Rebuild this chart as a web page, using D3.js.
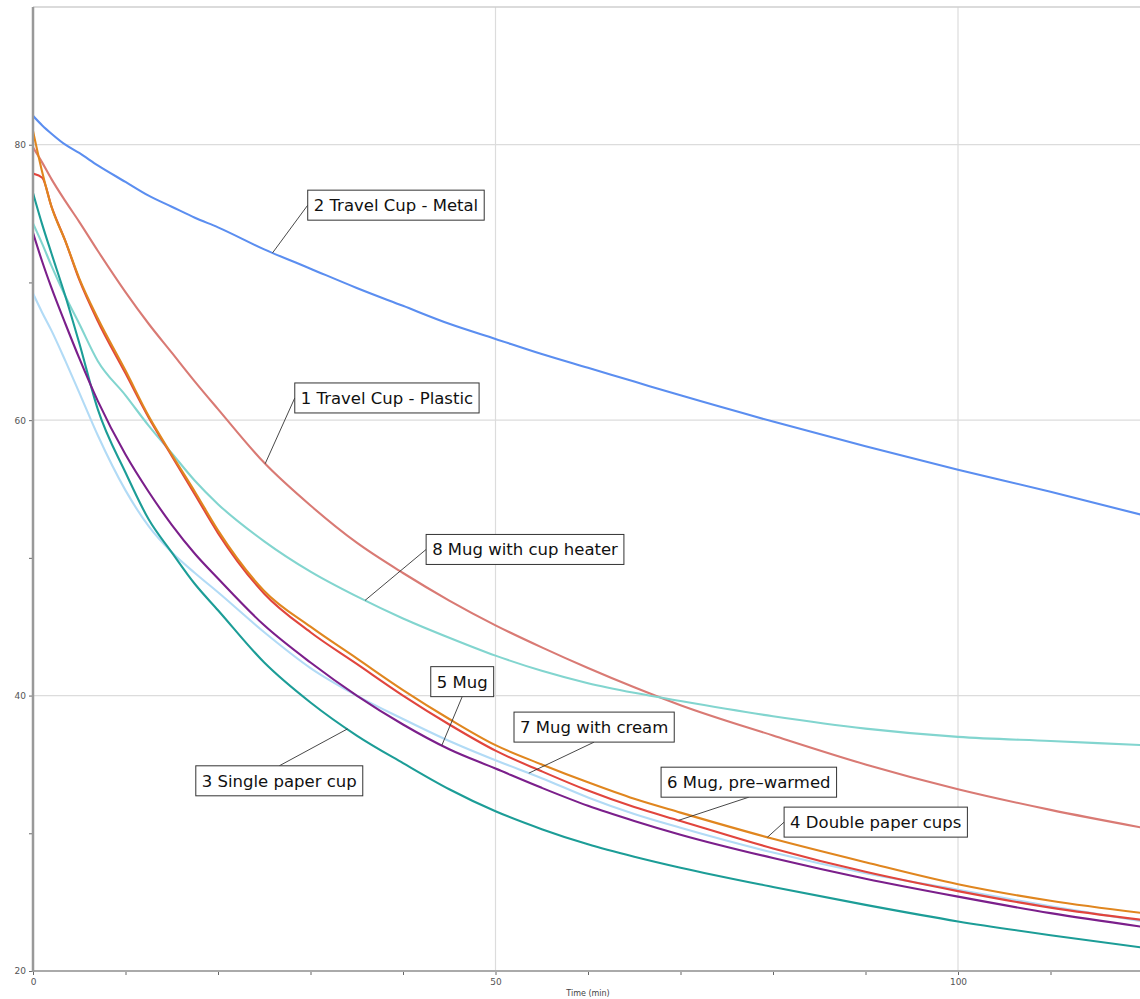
<!DOCTYPE html>
<html>
<head>
<meta charset="utf-8">
<script src="https://cdn.jsdelivr.net/npm/d3@7"></script>
<style>
  body { margin: 0; background: #fff; }
  svg { display: block; }
</style>
</head>
<body>
<script>
// sample times (min) shared by every cup
var times = [0, 1, 2, 3.5, 5, 7, 10, 12.5, 15, 17.5, 20, 25, 30, 35, 40, 45, 50, 55, 60, 65, 70, 80, 90, 100, 110, 120];

// temperatures
var travelPlastic = [79.8, 78.7, 77.5, 75.9, 74.4, 72.3, 69.3, 67.0, 64.9, 62.8, 60.8, 56.9, 53.8, 51.1, 48.9, 46.9, 45.1, 43.5, 42.0, 40.6, 39.3, 37.1, 35.0, 33.2, 31.7, 30.4];
var travelMetal   = [82.1, 81.4, 80.8, 80.0, 79.4, 78.5, 77.3, 76.3, 75.5, 74.7, 74.0, 72.4, 71.0, 69.6, 68.3, 67.0, 65.9, 64.8, 63.8, 62.8, 61.8, 59.9, 58.1, 56.4, 54.8, 53.1];
var singlePaper   = [76.5, 74.2, 72.1, 69.0, 65.6, 60.8, 56.2, 52.8, 50.4, 48.1, 46.2, 42.4, 39.5, 37.1, 35.1, 33.2, 31.6, 30.3, 29.2, 28.3, 27.5, 26.1, 24.8, 23.6, 22.6, 21.7];
var doublePaper   = [81.0, 78.0, 75.5, 73.0, 70.3, 67.4, 63.6, 60.3, 57.5, 54.8, 52.0, 47.6, 45.0, 42.7, 40.4, 38.3, 36.4, 35.0, 33.7, 32.5, 31.5, 29.6, 27.9, 26.3, 25.1, 24.2];
var mug           = [73.6, 71.5, 69.6, 67.0, 64.5, 61.4, 57.5, 54.8, 52.4, 50.3, 48.5, 45.1, 42.4, 40.0, 37.9, 36.1, 34.7, 33.3, 32.0, 30.9, 29.9, 28.2, 26.7, 25.4, 24.2, 23.2];
var mugPrewarmed  = [77.9, 77.6, 75.5, 73.0, 70.2, 67.2, 63.4, 60.2, 57.4, 54.6, 51.8, 47.4, 44.6, 42.3, 40.0, 37.9, 36.0, 34.5, 33.1, 31.9, 30.9, 28.9, 27.2, 25.8, 24.6, 23.7];
var mugCream      = [69.2, 67.8, 66.5, 64.3, 62.0, 58.9, 54.9, 52.3, 50.4, 48.9, 47.5, 44.6, 42.0, 40.0, 38.3, 36.7, 35.3, 34.0, 32.6, 31.4, 30.4, 28.6, 27.1, 25.9, 24.7, 23.6];
var mugHeater     = [74.3, 72.8, 71.2, 69.0, 67.0, 64.3, 61.8, 59.6, 57.6, 55.6, 53.9, 51.2, 49.0, 47.2, 45.6, 44.2, 42.9, 41.8, 40.9, 40.2, 39.6, 38.5, 37.6, 37.0, 36.7, 36.4];

var labels = ["1 Travel Cup - Plastic", "2 Travel Cup - Metal", "3 Single paper cup", "4 Double paper cups",
              "5 Mug", "6 Mug, pre\u2013warmed", "7 Mug with cream", "8 Mug with cup heater"];

var yTicks = [20, 30, 40, 50, 60, 70, 80];
var yTickLabels = [20, 40, 60, 80];
var xTicks = [0, 10, 20, 30, 40, 50, 60, 70, 80, 90, 100, 110, 120];
var xTickLabels = [0, 50, 100];

var width = 1140, height = 999;
var plotL = 33, plotT = 7, plotR = 1143, plotB = 971;

var x = d3.scaleLinear().domain([0, 120]).range([plotL, plotR]);
var y = d3.scaleLinear().domain([20, 90]).range([plotB, plotT]);

var series = [
  { name: labels[0], values: travelPlastic, color: "#d97a74" },
  { name: labels[1], values: travelMetal,   color: "#5b8ef0" },
  { name: labels[7], values: mugHeater,     color: "#82d5cf" },
  { name: labels[6], values: mugCream,      color: "#b2dbf6" },
  { name: labels[2], values: singlePaper,   color: "#1c9d97" },
  { name: labels[4], values: mug,           color: "#7b1f8b" },
  { name: labels[5], values: mugPrewarmed,  color: "#e1453d" },
  { name: labels[3], values: doublePaper,   color: "#e0861f" }
];

// annotation boxes: anchor time on the curve, box corner in data units, side the leader leaves from
var notes = [
  { label: labels[1], vals: travelMetal,   at: 25.9, bx: 29.7, by: 76.7, side: "left" },
  { label: labels[0], vals: travelPlastic, at: 25.1, bx: 28.3, by: 62.7, side: "left" },
  { label: labels[7], vals: mugHeater,     at: 35.9, bx: 42.5, by: 51.7, side: "left" },
  { label: labels[4], vals: mug,           at: 44.2, bx: 43.0, by: 42.1, side: "bottom" },
  { label: labels[6], vals: mugCream,      at: 53.6, bx: 52.0, by: 38.8, side: "bottom" },
  { label: labels[2], vals: singlePaper,   at: 34.0, bx: 17.6, by: 34.9, side: "top" },
  { label: labels[5], vals: mugPrewarmed,  at: 69.8, bx: 67.9, by: 34.8, side: "bottom" },
  { label: labels[3], vals: doublePaper,   at: 79.4, bx: 81.2, by: 31.9, side: "left" }
];

var svg = d3.select("body").append("svg")
  .attr("width", width)
  .attr("height", height)
  .style("font-family", "'DejaVu Sans', sans-serif");

// grid
svg.append("g").selectAll("line")
  .data([40, 60, 80])
  .enter().append("line")
  .attr("x1", plotL).attr("x2", plotR)
  .attr("y1", function(d) { return y(d); })
  .attr("y2", function(d) { return y(d); })
  .attr("stroke", "#dcdcdc").attr("stroke-width", 1.2);

svg.append("g").selectAll("line")
  .data([50, 100])
  .enter().append("line")
  .attr("x1", function(d) { return x(d); })
  .attr("x2", function(d) { return x(d); })
  .attr("y1", plotT).attr("y2", plotB)
  .attr("stroke", "#dcdcdc").attr("stroke-width", 1.2);

// top border
svg.append("line")
  .attr("x1", plotL).attr("x2", plotR)
  .attr("y1", plotT).attr("y2", plotT)
  .attr("stroke", "#cfcfcf").attr("stroke-width", 1.5);

// axes
var yAxis = d3.axisLeft(y).tickValues(yTicks).tickSize(4)
  .tickFormat(function(d) { return yTickLabels.indexOf(d) >= 0 ? d : ""; });
var xAxis = d3.axisBottom(x).tickValues(xTicks).tickSize(4)
  .tickFormat(function(d) { return xTickLabels.indexOf(d) >= 0 ? d : ""; });

var gy = svg.append("g").attr("transform", "translate(" + plotL + ",0)").call(yAxis);
var gx = svg.append("g").attr("transform", "translate(0," + plotB + ")").call(xAxis);

[gx, gy].forEach(function(g) {
  g.select(".domain").remove();
  g.selectAll(".tick line").attr("stroke", "#666");
  g.selectAll(".tick text").attr("fill", "#555").style("font-size", "9px")
    .style("font-family", "'DejaVu Sans', sans-serif");
});
gy.selectAll(".tick text").attr("x", -7);
gx.selectAll(".tick text").attr("y", 8);

svg.append("line")
  .attr("x1", plotL).attr("x2", plotR)
  .attr("y1", plotB).attr("y2", plotB)
  .attr("stroke", "#aaa").attr("stroke-width", 2);
svg.append("line")
  .attr("x1", plotL).attr("x2", plotL)
  .attr("y1", plotT).attr("y2", plotB + 1)
  .attr("stroke", "#999").attr("stroke-width", 2.5);

svg.append("text")
  .attr("x", (plotL + plotR) / 2)
  .attr("y", 996)
  .attr("text-anchor", "middle")
  .attr("fill", "#444")
  .style("font-size", "8px")
  .text("Time (min)");

// curves
svg.append("clipPath").attr("id", "plot")
  .append("rect").attr("x", plotL + 1).attr("y", plotT).attr("width", plotR - plotL).attr("height", plotB - plotT);

var line = d3.line()
  .x(function(d, i) { return x(times[i]); })
  .y(function(d) { return y(d); })
  .curve(d3.curveMonotoneX);

svg.append("g").attr("clip-path", "url(#plot)")
  .selectAll("path")
  .data(series)
  .enter().append("path")
  .attr("d", function(d) { return line(d.values); })
  .attr("fill", "none")
  .attr("stroke", function(d) { return d.color; })
  .attr("stroke-width", 2.1)
  .attr("stroke-linejoin", "round");

// value on a curve at time t (linear between samples)
function valueAt(vals, t) {
  var i = d3.bisectLeft(times, t);
  if (i <= 0) return vals[0];
  var t0 = times[i - 1], t1 = times[i];
  return vals[i - 1] + (vals[i] - vals[i - 1]) * (t - t0) / (t1 - t0);
}

// labels with leader lines
var padX = 6, boxH = 30;
var ng = svg.append("g");
notes.forEach(function(n) {
  var bx = x(n.bx), by = y(n.by);
  var g = ng.append("g");
  var leader = g.append("line").attr("stroke", "#333").attr("stroke-width", 0.9);
  var rect = g.append("rect");
  var txt = g.append("text")
    .attr("x", bx + padX)
    .attr("y", by + 21)
    .attr("fill", "#111")
    .style("font-size", "16.5px")
    .text(n.label);
  var w = txt.node().getComputedTextLength() + padX * 2;
  rect.attr("x", bx).attr("y", by).attr("width", w).attr("height", boxH)
    .attr("fill", "#fff").attr("stroke", "#333").attr("stroke-width", 1);
  var sx, sy;
  if (n.side === "left") { sx = bx; sy = by + boxH / 2; }
  else if (n.side === "bottom") { sx = bx + w / 2; sy = by + boxH; }
  else { sx = bx + w / 2; sy = by; }
  leader.attr("x1", sx).attr("y1", sy)
    .attr("x2", x(n.at)).attr("y2", y(valueAt(n.vals, n.at)));
});
</script>
</body>
</html>
